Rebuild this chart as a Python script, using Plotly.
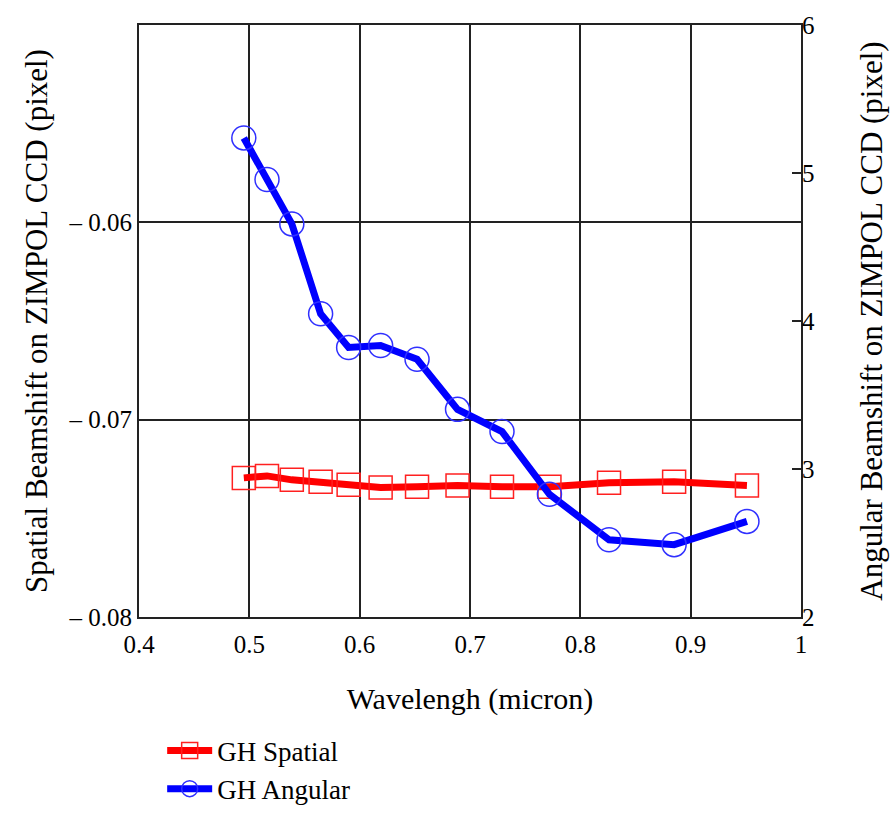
import plotly.graph_objects as go

wavelength = [0.495, 0.516, 0.5385, 0.5646, 0.590, 0.619, 0.652, 0.6887, 0.729, 0.772, 0.826, 0.885, 0.951]
gh_spatial = [-0.07295, -0.07285, -0.07305, -0.07315, -0.0733, -0.07344, -0.0734, -0.07334, -0.0734, -0.0734, -0.0732, -0.07315, -0.07334]
gh_angular = [5.237, 4.956, 4.656, 4.049, 3.821, 3.834, 3.742, 3.403, 3.253, 2.829, 2.522, 2.489, 2.646]

x_ticks = [0.4, 0.5, 0.6, 0.7, 0.8, 0.9, 1.0]
x_ticktext = ["0.4", "0.5", "0.6", "0.7", "0.8", "0.9", "1"]
y1_ticks = [-0.08, -0.07, -0.06]
y1_ticktext = ["\u2013 0.08", "\u2013 0.07", "\u2013 0.06"]
y2_ticks = [2, 3, 4, 5, 6]

FONT = "Liberation Serif"

fig = go.Figure()
fig.add_trace(go.Scatter(
    x=wavelength, y=gh_spatial, name="GH Spatial", mode="lines+markers",
    line=dict(color="#ff0000", width=7),
    marker=dict(symbol="square-open", size=23, color="#ff2020", line=dict(width=1.5, color="#ff2020")),
    yaxis="y"))
fig.add_trace(go.Scatter(
    x=wavelength, y=gh_angular, name="GH Angular", mode="lines+markers",
    line=dict(color="#0000ff", width=7),
    marker=dict(symbol="circle-open", size=24, color="#3030ff", line=dict(width=1.5, color="#3030ff")),
    yaxis="y2"))

fig.update_layout(
    width=895, height=825,
    margin=dict(l=139, r=89, t=14, b=198),
    paper_bgcolor="white", plot_bgcolor="white",
    font=dict(family=FONT, size=25, color="black"),
    showlegend=True,
    legend=dict(x=0.035, y=-0.185, xanchor="left", yanchor="top",
                font=dict(family=FONT, size=27), itemwidth=45,
                tracegroupgap=0, bgcolor="rgba(0,0,0,0)"),
    xaxis=dict(range=[0.4, 1.0], tickvals=x_ticks, ticktext=x_ticktext,
               showgrid=True, gridcolor="#222", gridwidth=2,
               showline=True, linecolor="#222", linewidth=2, mirror=True,
               ticks="", zeroline=False, ticklabelstandoff=4,
               title=dict(text="Wavelengh (micron)", font=dict(family=FONT, size=30), standoff=31),
               tickfont=dict(family=FONT, size=25)),
    yaxis=dict(range=[-0.08, -0.05], tickvals=y1_ticks, ticktext=y1_ticktext,
               showgrid=True, gridcolor="#222", gridwidth=2,
               showline=True, linecolor="#222", linewidth=2, mirror=True,
               ticks="", zeroline=False,
               title=dict(text="Spatial Beamshift on ZIMPOL CCD (pixel)", font=dict(family=FONT, size=31), standoff=12),
               tickfont=dict(family=FONT, size=25)),
    yaxis2=dict(range=[2, 6], tickvals=y2_ticks, overlaying="y", side="right",
                showgrid=False, zeroline=False, showline=False,
                ticks="inside", ticklen=9, tickwidth=2, tickcolor="#222",
                title=dict(text="Angular Beamshift on ZIMPOL CCD (pixel)", font=dict(family=FONT, size=31), standoff=46),
                tickfont=dict(family=FONT, size=25)),
)

fig.write_html("out.html")
